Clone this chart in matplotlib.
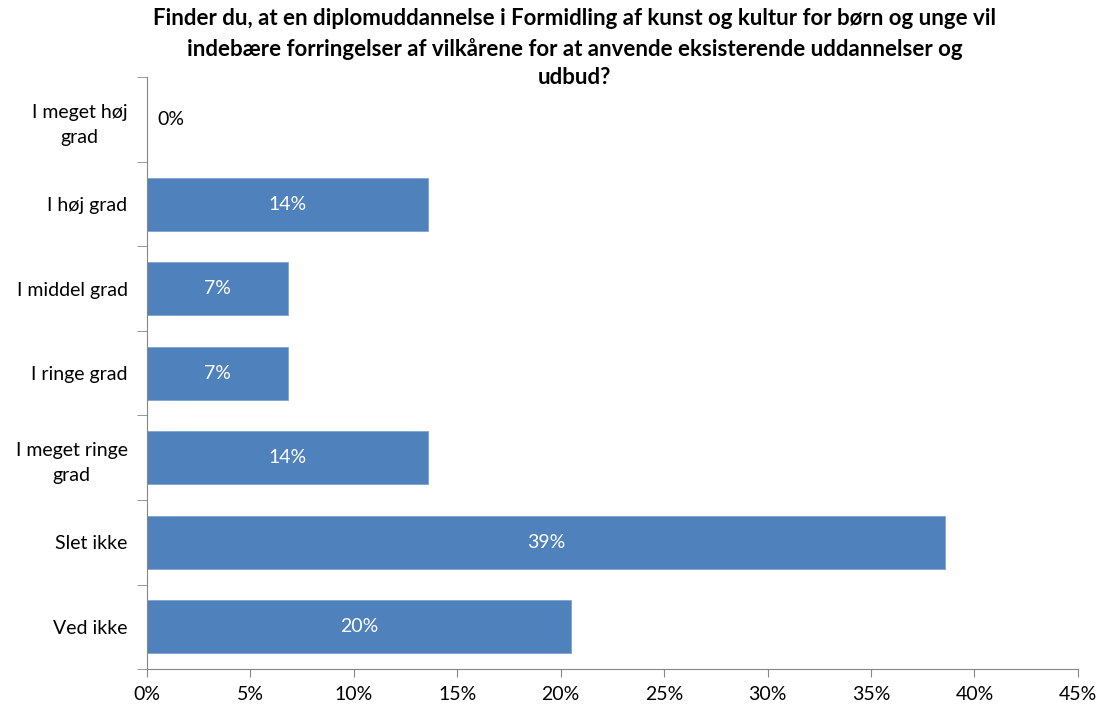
import numpy as np
import matplotlib.pyplot as plt
from matplotlib.ticker import FixedLocator, PercentFormatter

plt.rcParams['font.family'] = ['Lato', 'DejaVu Sans']

# answers out of 44 respondents
categories = ['I meget høj\ngrad', 'I høj grad', 'I middel grad', 'I ringe grad',
              'I meget ringe\ngrad', 'Slet ikke', 'Ved ikke']
shares = [0.0, 13.6, 6.8, 6.8, 13.6, 38.6, 20.5]
labels = ['0%', '14%', '7%', '7%', '14%', '39%', '20%']

title = ('Finder du, at en diplomuddannelse i Formidling af kunst og kultur for børn og unge vil\n'
         'indebære forringelser af vilkårene for at anvende eksisterende uddannelser og\n'
         'udbud?')

fig = plt.figure(figsize=(11.01, 7.07), dpi=100)
ax = fig.add_axes([0.1335, 0.0537, 0.8455, 0.8368])

y = np.arange(len(categories))
bars = ax.barh(y, shares, height=0.63, color='#4F81BD', edgecolor='#7FA3D0', linewidth=0.6)

for b, val, lab in zip(bars, shares, labels):
    cy = b.get_y() + b.get_height() / 2
    if val > 0:
        ax.text(val / 2, cy, lab, ha='center', va='center', color='white', fontsize=14)
    else:
        ax.text(0.5, cy, lab, ha='left', va='center', color='black', fontsize=14)

ax.set_xlim(0, 45)
ax.set_ylim(len(categories) - 0.5, -0.5)
ax.set_xticks(np.arange(0, 46, 5))
ax.xaxis.set_major_formatter(PercentFormatter(decimals=0))
ax.set_yticks(y)
ax.set_yticklabels(categories, fontsize=14)
ax.yaxis.set_minor_locator(FixedLocator(np.arange(-0.5, len(categories), 1)))
ax.tick_params(axis='y', which='major', length=0, pad=14)
ax.tick_params(axis='y', which='minor', length=7, color='#868686')
ax.tick_params(axis='x', length=6, color='#868686', labelsize=14, pad=6)
for lab in ax.get_yticklabels():
    lab.set_multialignment('center')
    lab.set_linespacing(1.55)

for s in ['top', 'right']:
    ax.spines[s].set_visible(False)
for s in ['left', 'bottom']:
    ax.spines[s].set_color('#868686')

fig.text(0.522, 0.988, title, ha='center', va='top', fontsize=16, fontweight='bold',
         linespacing=1.45)

fig.savefig('out.png', dpi=100)
